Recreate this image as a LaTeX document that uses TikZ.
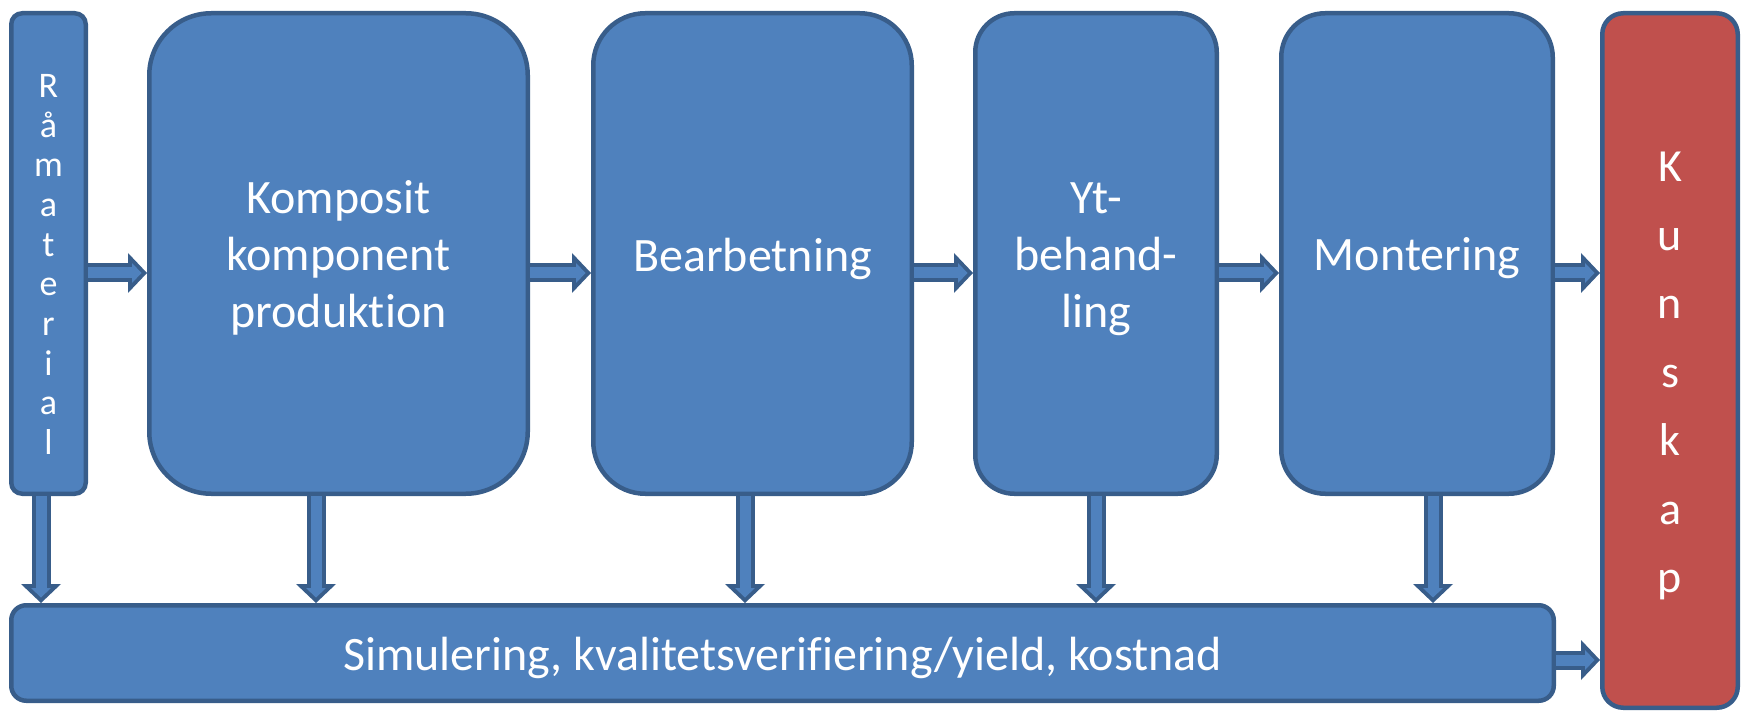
\documentclass[tikz,border=0pt]{standalone}
\usepackage{fontspec}
\setmainfont{Carlito}[Ligatures=NoCommon]
\usepackage{tikz}
\usetikzlibrary{positioning,arrows.meta}
\definecolor{boxblue}{HTML}{4F81BD}
\definecolor{boxedge}{HTML}{385D8A}
\definecolor{boxred}{HTML}{C0504D}
\newcommand{\headroom}[1]{\rule{0pt}{#1}}

\begin{document}
\begin{tikzpicture}[x=1pt,y=-1pt,on grid]
  \tikzstyle{block}=[draw=boxedge, fill=boxblue, line width=4.5pt, inner sep=0pt, text=white, align=center, font=\fontsize{48}{57}\selectfont]
  \tikzstyle{feed}=[draw=boxedge, line width=19pt, -{Triangle[length=19pt,width=40pt,line width=0pt]},
    postaction={draw=boxblue, line width=11pt, shorten >=5.5pt, -{Triangle[length=9.5pt,width=20pt,line width=0pt]}}]
  \useasboundingbox (0,0) rectangle (1748,711);

  % process chain
  \node[block, rounded corners=11pt, minimum width=74.5pt, minimum height=480.5pt,
        font=\fontsize{36}{39.7}\selectfont]                                  (raw)  at (48.5,253.5)  {\headroom{45pt}R\\å\\m\\a\\t\\e\\r\\i\\a\\l};
  \node[block, rounded corners=62pt, minimum width=378.5pt, minimum height=480.5pt] (komp) [right = 290pt of raw]   {\headroom{42.5pt}Komposit\\komponent\\produktion};
  \node[block, rounded corners=52pt, minimum width=318.5pt, minimum height=480.5pt] (bear) [right = 414pt of komp]  {\headroom{44.5pt}Bearbetning};
  \node[block, rounded corners=39pt, minimum width=241.5pt, minimum height=480.5pt] (yt)   [right = 343.5pt of bear] {\headroom{42pt}Yt-\\behand-\\ling};
  \node[block, rounded corners=44pt, minimum width=271.5pt, minimum height=480.5pt] (mont) [right = 321pt of yt]    {\headroom{42pt}Montering};
  \node[block, fill=boxred, rounded corners=21pt, minimum width=135.5pt, minimum height=694.5pt,
        font=\fontsize{46}{68.5}\selectfont]                                  (kun)  [right = 253pt of mont, yshift=-107pt] {\headroom{61pt}K\\u\\n\\s\\k\\a\\p};
  \node[block, rounded corners=15pt, minimum width=1542.5pt, minimum height=95.5pt] (sim) at (782.5,653) {\headroom{43pt}Simulering, kvalitetsverifiering/yield, kostnad};

  % arrows along the chain
  \path[feed] ([yshift=-19.5pt]raw.east)  -- ([yshift=-19.5pt]komp.west);
  \path[feed] ([yshift=-19.5pt]komp.east) -- ([yshift=-19.5pt]bear.west);
  \path[feed] ([yshift=-19.5pt]bear.east) -- ([yshift=-19.5pt]yt.west);
  \path[feed] ([yshift=-19.5pt]yt.east)   -- ([yshift=-19.5pt]mont.west);
  \path[feed] ([yshift=-19.5pt]mont.east) -- ([yshift=-19.5pt]mont.east -| kun.west);

  % arrows down to the bar
  \path[feed] ([xshift=-7.5pt]raw.south)  -- ([xshift=-7.5pt]raw.south |- sim.north);
  \path[feed] ([xshift=-22.5pt]komp.south) -- ([xshift=-22.5pt]komp.south |- sim.north);
  \path[feed] ([xshift=-7.5pt]bear.south) -- ([xshift=-7.5pt]bear.south |- sim.north);
  \path[feed] (yt.south)                  -- (yt.south |- sim.north);
  \path[feed] ([xshift=16pt]mont.south)   -- ([xshift=16pt]mont.south |- sim.north);
  \path[feed] ([yshift=-7pt]sim.east)     -- ([yshift=-7pt]sim.east -| kun.west);
\end{tikzpicture}
\end{document}
